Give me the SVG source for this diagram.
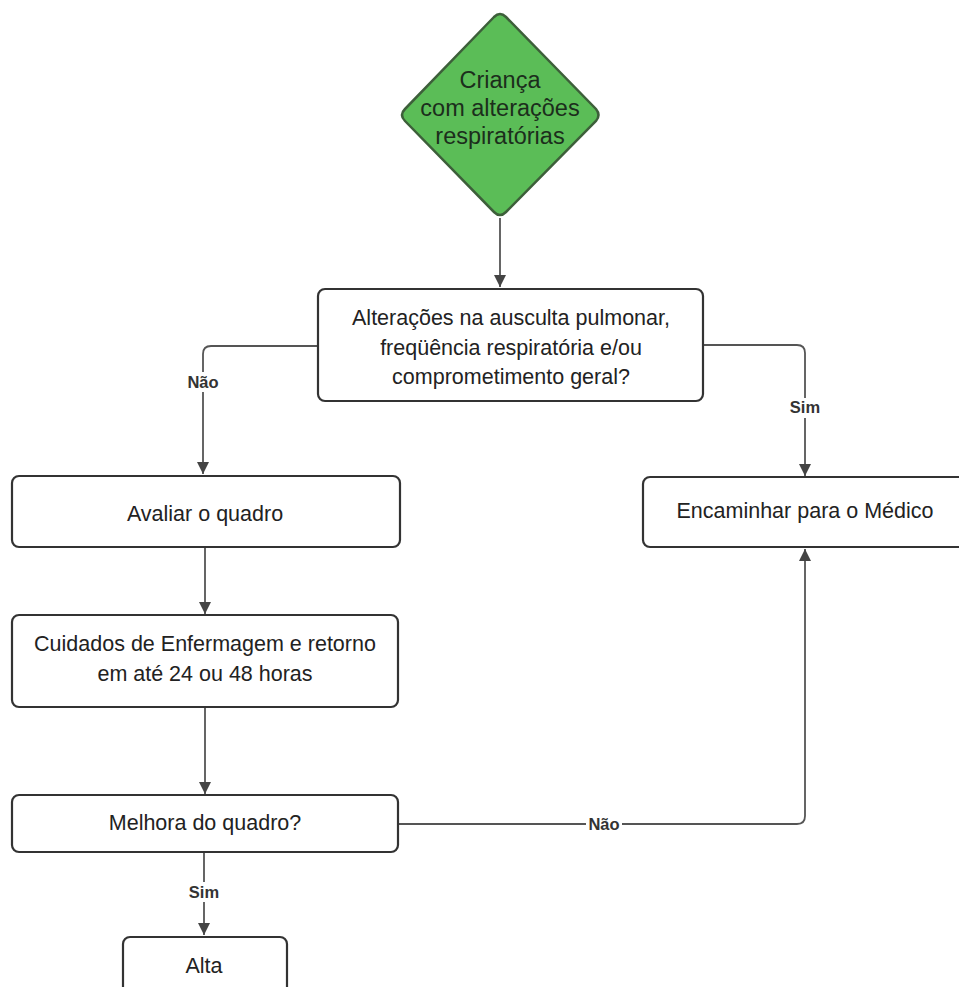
<svg xmlns="http://www.w3.org/2000/svg" width="959" height="987" viewBox="0 0 959 987">
<style>
.box{fill:#fff;stroke:#333;stroke-width:2.2}
.t{font-family:"Liberation Sans",Arial,sans-serif;font-size:21.5px;fill:#222;text-anchor:middle}
.d{font-family:"Liberation Sans",Arial,sans-serif;font-size:23.5px;fill:#1c2e1c;text-anchor:middle}
.lbl{font-family:"Liberation Sans",Arial,sans-serif;font-size:16.5px;font-weight:bold;fill:#333;text-anchor:middle}
.c{fill:none;stroke:#555;stroke-width:1.8}
</style>
<defs>
<marker id="a" viewBox="0 0 12 12" refX="12" refY="6" markerWidth="16" markerHeight="12" markerUnits="userSpaceOnUse" orient="auto">
<path d="M0,0 L12,6 L0,12 z" fill="#444"/>
</marker>
</defs>
<rect width="959" height="987" fill="#fff"/>
<g id="connectors">
<path class="c" d="M500,218 V287" marker-end="url(#a)"/>
<path class="c" d="M318,346 H211 Q203,346 203,354 V474" marker-end="url(#a)"/>
<path class="c" d="M703,345 H797 Q805,345 805,353 V476" marker-end="url(#a)"/>
<path class="c" d="M205,547 V614" marker-end="url(#a)"/>
<path class="c" d="M205,707 V794" marker-end="url(#a)"/>
<path class="c" d="M398,824 H797 Q805,824 805,816 V549" marker-end="url(#a)"/>
<path class="c" d="M204,852 V935" marker-end="url(#a)"/>
<rect x="184" y="372" width="38" height="20" fill="#fff"/>
<text class="lbl" x="203" y="388">Não</text>
<rect x="787" y="398" width="36" height="20" fill="#fff"/>
<text class="lbl" x="805" y="413">Sim</text>
<rect x="586" y="814" width="36" height="20" fill="#fff"/>
<text class="lbl" x="604" y="830">Não</text>
<rect x="188" y="882" width="32" height="20" fill="#fff"/>
<text class="lbl" x="204" y="898">Sim</text>
</g>
<g id="n1">
<path d="M494,17 Q500,11 506,17 L596,109 Q601,115 596,121 L506,212 Q500,218 494,212 L405,121 Q399,115 405,109 Z" fill="#5bbd57" stroke="#3d5f3a" stroke-width="2.5"/>
<text class="d" x="500" y="88">Criança</text>
<text class="d" x="500" y="116">com alterações</text>
<text class="d" x="500" y="144">respiratórias</text>
</g>
<g id="n2">
<rect class="box" x="318" y="289" width="385" height="112" rx="7"/>
<text class="t" x="511" y="325">Alterações na ausculta pulmonar,</text>
<text class="t" x="511" y="355">freqüência respiratória e/ou</text>
<text class="t" x="511" y="384">comprometimento geral?</text>
</g>
<g id="n3">
<rect class="box" x="12" y="476" width="388" height="71" rx="7"/>
<text class="t" x="205" y="521">Avaliar o quadro</text>
</g>
<g id="n4">
<rect class="box" x="643" y="477" width="324" height="70" rx="7"/>
<text class="t" x="805" y="518">Encaminhar para o Médico</text>
</g>
<g id="n5">
<rect class="box" x="12" y="615" width="386" height="92" rx="7"/>
<text class="t" x="205" y="651">Cuidados de Enfermagem e retorno</text>
<text class="t" x="205" y="681">em até 24 ou 48 horas</text>
</g>
<g id="n6">
<rect class="box" x="12" y="795" width="386" height="57" rx="7"/>
<text class="t" x="205" y="830">Melhora do quadro?</text>
</g>
<g id="n7">
<rect class="box" x="123" y="937" width="164" height="70" rx="7"/>
<text class="t" x="204" y="973">Alta</text>
</g>
</svg>
